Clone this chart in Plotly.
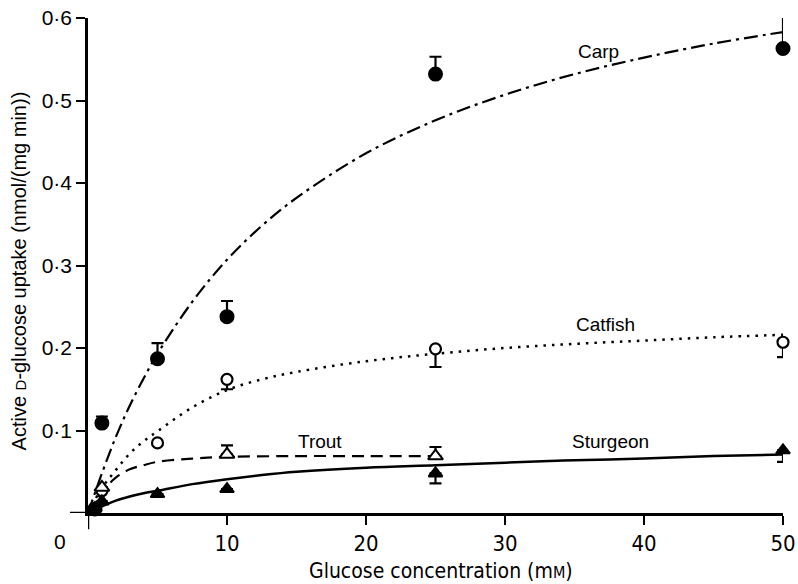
import plotly.graph_objects as go

# Measured uptake (mean, one-sided SEM) for each species
carp_x = [0.5, 1, 5, 10, 25, 50]
carp_y = [0.005, 0.109, 0.187, 0.238, 0.532, 0.563]
carp_err = [0, 0.008, 0.019, 0.019, 0.021, 0.052]

catfish_x = [1, 5, 10, 25, 50]
catfish_y = [0.027, 0.085, 0.162, 0.199, 0.207]
catfish_err = [0, 0, 0.012, 0.022, 0.018]

trout_x = [1, 10, 25]
trout_y = [0.031, 0.071, 0.069]
trout_err = [0, 0.011, 0.011]

sturgeon_x = [0.5, 1, 5, 10, 25, 50]
sturgeon_y = [0.006, 0.014, 0.023, 0.029, 0.048, 0.076]
sturgeon_err = [0, 0, 0, 0, 0.012, 0.014]

# Fitted saturation curves
carp_fit_x = [0, 1, 2, 3, 4, 5, 7.5, 10, 12.5, 15, 20, 25, 30, 35, 40, 45, 50]
carp_fit_y = [0, 0.048, 0.092, 0.13, 0.163, 0.193, 0.256, 0.307, 0.348, 0.382,
              0.436, 0.476, 0.507, 0.532, 0.552, 0.569, 0.583]

catfish_fit_x = [0, 1, 2, 3, 4, 5, 7.5, 10, 12.5, 15, 20, 25, 30, 35, 40, 45, 50]
catfish_fit_y = [0, 0.03, 0.052, 0.072, 0.087, 0.099, 0.128, 0.149, 0.162, 0.171,
                 0.184, 0.193, 0.2, 0.205, 0.209, 0.213, 0.216]

trout_fit_x = [0, 0.5, 1, 1.5, 2, 3, 4, 5, 7.5, 10, 15, 20, 25]
trout_fit_y = [0, 0.012, 0.025, 0.035, 0.043, 0.053, 0.058, 0.062, 0.066, 0.068,
               0.069, 0.069, 0.069]

sturgeon_fit_x = [0, 1, 2, 3, 4, 5, 7.5, 10, 12.5, 15, 20, 25, 30, 35, 40, 45, 50]
sturgeon_fit_y = [0, 0.008, 0.015, 0.02, 0.024, 0.027, 0.035, 0.041, 0.046, 0.05,
                  0.055, 0.058, 0.061, 0.064, 0.066, 0.069, 0.071]

x_ticks = [10, 20, 30, 40, 50]
y_ticks = [0.1, 0.2, 0.3, 0.4, 0.5, 0.6]
y_tick_text = ["0·1", "0·2", "0·3", "0·4", "0·5", "0·6"]

labels = [("Carp", 36.7, 0.559), ("Catfish", 37.2, 0.228),
          ("Trout", 16.7, 0.087), ("Sturgeon", 37.6, 0.087)]

FONT = "Liberation Sans"
NARROW = "DejaVu Sans Condensed"
BLACK = "#000000"

fig = go.Figure()

fits = [
    (carp_fit_x, carp_fit_y, "14px,5px,3px,5px", 2.2),
    (catfish_fit_x, catfish_fit_y, "2.5px,6px", 2.5),
    (trout_fit_x, trout_fit_y, "12px,7px", 2.2),
    (sturgeon_fit_x, sturgeon_fit_y, "solid", 2.5),
]
for fx, fy, dash, w in fits:
    fig.add_trace(go.Scatter(x=fx, y=fy, mode="lines", line_shape="spline",
                             line=dict(color=BLACK, width=w, dash=dash),
                             hoverinfo="skip", showlegend=False))

# Open symbols get a white fill so the fitted lines do not show through
points = [
    (carp_x, carp_y, carp_err, "up", "circle", 13, BLACK, 2.0),
    (catfish_x, catfish_y, catfish_err, "down", "circle", 11, "white", 2.2),
    (trout_x, trout_y, trout_err, "up", "triangle-up", 13, "white", 2.0),
    (sturgeon_x, sturgeon_y, sturgeon_err, "down", "triangle-up", 12, BLACK, 2.0),
]
for px, py, err, side, sym, size, fill, lw in points:
    zeros = [0] * len(err)
    ey = dict(type="data", symmetric=False,
              array=err if side == "up" else zeros,
              arrayminus=err if side == "down" else zeros,
              color=BLACK, thickness=2.2, width=6)
    fig.add_trace(go.Scatter(
        x=px, y=py, mode="markers", error_y=ey, cliponaxis=False,
        marker=dict(symbol=sym, size=size, color=fill,
                    line=dict(color=BLACK, width=lw)),
        showlegend=False))

for text, lx, ly in labels:
    fig.add_annotation(x=lx, y=ly, text=text, showarrow=False,
                       font=dict(family=FONT, size=19, color=BLACK))

# Shared origin label
fig.add_annotation(x=0, y=0, text="0", showarrow=False, xshift=-28, yshift=-28,
                   font=dict(family=FONT, size=21, color=BLACK))

fig.add_annotation(
    xref="paper", yref="paper", x=-0.118, y=0.49, textangle=-90,
    text="Active <span style='font-size:15px'>D</span>-glucose uptake (nmol/(mg min))",
    showarrow=False, font=dict(family=FONT, size=20, color=BLACK))

fig.add_annotation(
    xref="paper", yref="paper", x=0.508, y=-0.118, yanchor="middle",
    text="Glucose concentration (m<span style='font-size:16px'>M</span>)",
    showarrow=False, font=dict(family=NARROW, size=21, color=BLACK))

fig.update_xaxes(range=[0, 50], tickvals=x_ticks, ticktext=[str(v) for v in x_ticks],
                 showline=True, linecolor=BLACK, linewidth=2.5, ticks="outside",
                 ticklen=9, tickwidth=2.2, tickcolor=BLACK, showgrid=False,
                 zeroline=False, automargin=False,
                 tickfont=dict(family=NARROW, size=22, color=BLACK))
fig.update_yaxes(range=[0, 0.6], tickvals=y_ticks, ticktext=y_tick_text,
                 showline=True, linecolor=BLACK, linewidth=2.5, ticks="outside",
                 ticklen=9, tickwidth=2.2, tickcolor=BLACK, showgrid=False,
                 zeroline=False, automargin=False,
                 tickfont=dict(family=FONT, size=21, color=BLACK))

# Axis line extensions past the origin
fig.add_shape(type="line", xref="x", yref="paper", x0=0, x1=0, y0=0, y1=-0.033,
              line=dict(color=BLACK, width=2.5))
fig.add_shape(type="line", xref="paper", yref="y", x0=-0.026, x1=0, y0=0, y1=0,
              line=dict(color=BLACK, width=2.5))

fig.update_layout(width=798, height=584,
                  margin=dict(l=88, r=15, t=18, b=71),
                  plot_bgcolor="white", paper_bgcolor="white")

fig.write_html("out.html")
